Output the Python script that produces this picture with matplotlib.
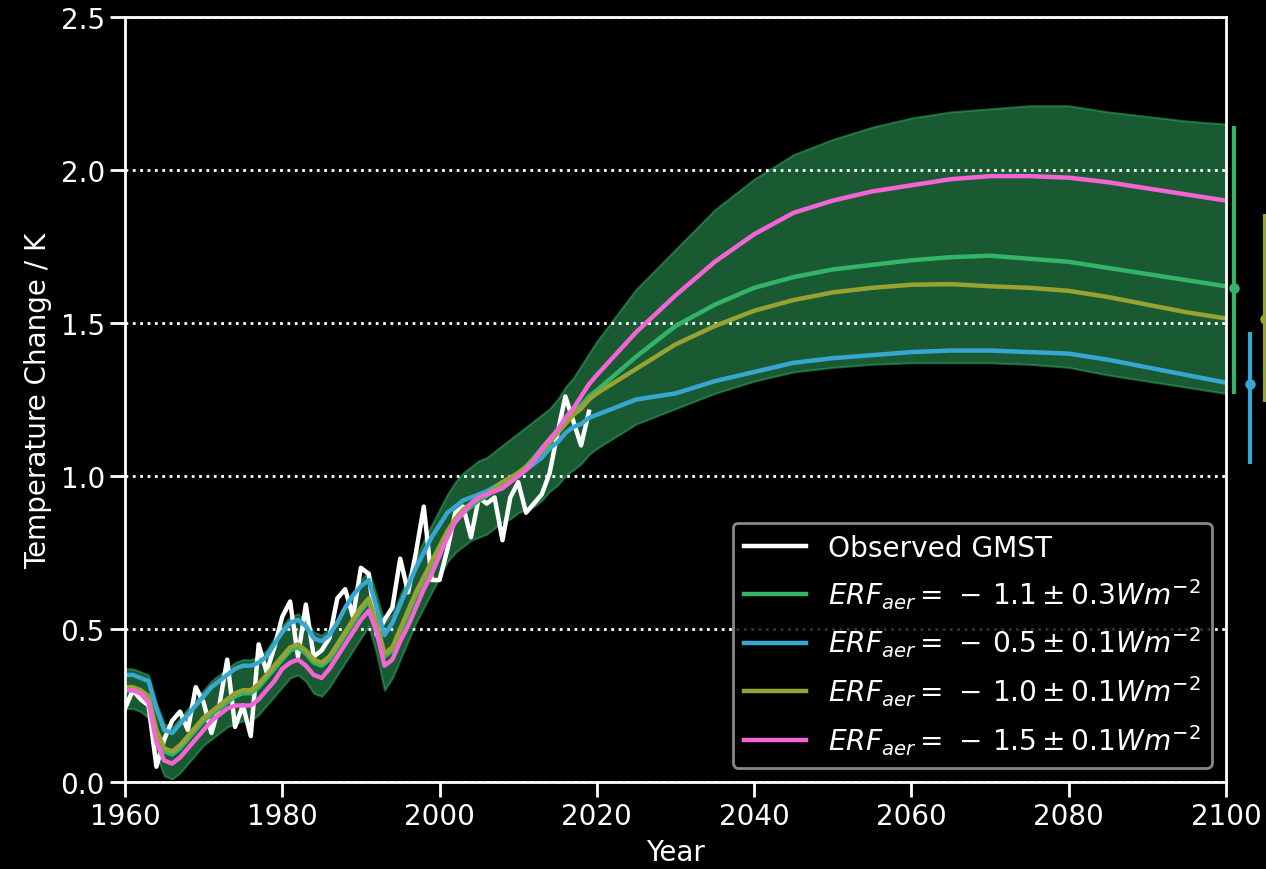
import numpy as np
import matplotlib
matplotlib.use("Agg")
import matplotlib.pyplot as plt

# years: annual through 2020, then every 5 years
years = np.concatenate([np.arange(1960, 2021), np.arange(2025, 2101, 5)])
obs_years = np.arange(1960, 2020)

# observed GMST (K)
obs = [0.24, 0.30, 0.27, 0.25, 0.05, 0.14, 0.20, 0.23, 0.17, 0.31,
       0.26, 0.16, 0.25, 0.40, 0.18, 0.25, 0.15, 0.45, 0.36, 0.44,
       0.54, 0.59, 0.41, 0.58, 0.41, 0.43, 0.47, 0.60, 0.63, 0.54,
       0.70, 0.68, 0.48, 0.53, 0.57, 0.73, 0.62, 0.75, 0.90, 0.66,
       0.66, 0.76, 0.88, 0.90, 0.80, 0.93, 0.91, 0.93, 0.79, 0.93,
       0.98, 0.88, 0.91, 0.94, 1.01, 1.14, 1.26, 1.18, 1.10, 1.21]

# ERF_aer = -1.1 +- 0.3 (central, upper, lower)
erf_11 = [0.30, 0.30, 0.29, 0.27, 0.16, 0.10, 0.09, 0.11, 0.14, 0.17,
          0.20, 0.22, 0.24, 0.26, 0.28, 0.29, 0.29, 0.31, 0.34, 0.37,
          0.40, 0.43, 0.44, 0.42, 0.39, 0.38, 0.40, 0.44, 0.48, 0.52,
          0.56, 0.59, 0.51, 0.41, 0.43, 0.49, 0.55, 0.61, 0.66, 0.71,
          0.76, 0.81, 0.85, 0.88, 0.90, 0.92, 0.935, 0.955, 0.975, 0.99,
          1.01, 1.03, 1.06, 1.09, 1.12, 1.15, 1.18, 1.21, 1.23, 1.26,
          1.28,
          1.39, 1.49, 1.56, 1.615, 1.65, 1.675, 1.69, 1.705, 1.715, 1.72,
          1.71, 1.70, 1.68, 1.66, 1.64, 1.62]
erf_11_hi = [0.37, 0.37, 0.36, 0.35, 0.26, 0.19, 0.18, 0.21, 0.24, 0.27,
             0.30, 0.33, 0.35, 0.37, 0.39, 0.40, 0.40, 0.41, 0.43, 0.47,
             0.51, 0.54, 0.55, 0.53, 0.49, 0.48, 0.50, 0.53, 0.57, 0.62,
             0.66, 0.69, 0.61, 0.52, 0.55, 0.61, 0.67, 0.73, 0.79, 0.84,
             0.89, 0.94, 0.98, 1.01, 1.03, 1.05, 1.06, 1.08, 1.10, 1.12,
             1.14, 1.16, 1.18, 1.20, 1.22, 1.25, 1.29, 1.32, 1.36, 1.40,
             1.44,
             1.61, 1.74, 1.87, 1.97, 2.05, 2.10, 2.14, 2.17, 2.19, 2.20,
             2.21, 2.21, 2.19, 2.175, 2.16, 2.15]
erf_11_lo = [0.24, 0.24, 0.23, 0.21, 0.09, 0.02, 0.01, 0.03, 0.06, 0.09,
             0.12, 0.14, 0.16, 0.18, 0.19, 0.20, 0.20, 0.22, 0.25, 0.28,
             0.31, 0.34, 0.35, 0.33, 0.29, 0.28, 0.31, 0.35, 0.39, 0.43,
             0.47, 0.51, 0.42, 0.30, 0.34, 0.40, 0.46, 0.52, 0.57, 0.62,
             0.67, 0.72, 0.75, 0.77, 0.79, 0.80, 0.81, 0.83, 0.85, 0.86,
             0.88, 0.89, 0.90, 0.92, 0.95, 0.97, 1.00, 1.02, 1.04, 1.07,
             1.09,
             1.17, 1.22, 1.27, 1.31, 1.34, 1.355, 1.365, 1.37, 1.37, 1.37,
             1.365, 1.355, 1.33, 1.31, 1.29, 1.27]

# ERF_aer = -0.5 +- 0.1
erf_05 = [0.35, 0.35, 0.34, 0.33, 0.24, 0.17, 0.16, 0.19, 0.22, 0.25,
          0.28, 0.31, 0.33, 0.35, 0.37, 0.38, 0.38, 0.39, 0.41, 0.45,
          0.49, 0.52, 0.53, 0.51, 0.47, 0.46, 0.48, 0.52, 0.57, 0.61,
          0.64, 0.66, 0.57, 0.48, 0.52, 0.58, 0.64, 0.70, 0.75, 0.80,
          0.84, 0.88, 0.90, 0.92, 0.93, 0.94, 0.95, 0.965, 0.98, 0.99,
          1.00, 1.02, 1.04, 1.06, 1.09, 1.11, 1.14, 1.16, 1.17, 1.19,
          1.20,
          1.25, 1.27, 1.31, 1.34, 1.37, 1.385, 1.395, 1.405, 1.41, 1.41,
          1.405, 1.40, 1.38, 1.355, 1.33, 1.305]

# ERF_aer = -1.0 +- 0.1
erf_10 = [0.31, 0.31, 0.30, 0.28, 0.17, 0.11, 0.10, 0.12, 0.15, 0.18,
          0.21, 0.23, 0.25, 0.27, 0.29, 0.30, 0.30, 0.32, 0.35, 0.38,
          0.41, 0.44, 0.45, 0.43, 0.40, 0.39, 0.41, 0.45, 0.49, 0.53,
          0.57, 0.60, 0.52, 0.42, 0.44, 0.50, 0.56, 0.62, 0.67, 0.72,
          0.77, 0.82, 0.86, 0.89, 0.91, 0.93, 0.94, 0.96, 0.98, 0.995,
          1.01, 1.03, 1.055, 1.08, 1.11, 1.14, 1.17, 1.20, 1.22, 1.25,
          1.27,
          1.35, 1.43, 1.49, 1.54, 1.575, 1.60, 1.615, 1.625, 1.627, 1.62,
          1.615, 1.605, 1.585, 1.56, 1.535, 1.515]

# ERF_aer = -1.5 +- 0.1
erf_15 = [0.30, 0.30, 0.29, 0.26, 0.13, 0.07, 0.06, 0.08, 0.11, 0.14,
          0.17, 0.20, 0.22, 0.24, 0.25, 0.25, 0.25, 0.27, 0.30, 0.33,
          0.37, 0.39, 0.40, 0.38, 0.35, 0.34, 0.37, 0.41, 0.45, 0.49,
          0.53, 0.56, 0.49, 0.38, 0.40, 0.46, 0.51, 0.57, 0.63, 0.68,
          0.74, 0.80, 0.85, 0.88, 0.91, 0.93, 0.94, 0.95, 0.96, 0.98,
          1.00, 1.02, 1.05, 1.09, 1.12, 1.15, 1.19, 1.22, 1.26, 1.30,
          1.33,
          1.47, 1.59, 1.70, 1.79, 1.86, 1.90, 1.93, 1.95, 1.97, 1.98,
          1.98, 1.975, 1.96, 1.94, 1.92, 1.90]

# 2100 ranges shown as error bars right of the axes
bar_x = [2101, 2103, 2105]
bar_mid = [1.615, 1.30, 1.513]
bar_lo = [1.268, 1.04, 1.242]
bar_hi = [2.144, 1.47, 1.856]

c_green = '#33b466'
c_blue = '#37a6d2'
c_olive = '#98a233'
c_pink = '#f564d4'

plt.style.use('dark_background')
plt.rcParams['font.family'] = ['DejaVu Sans']

fig = plt.figure(figsize=(12.66, 8.7), dpi=100)
ax = fig.add_axes([0.0987, 0.1, 0.8697, 0.8793])

ax.fill_between(years, erf_11_lo, erf_11_hi, color=c_green, alpha=0.5, lw=1.5, zorder=1)
ax.plot(obs_years, obs, color='white', lw=3.2, label='Observed GMST', zorder=2)
ax.plot(years, erf_11, color=c_green, lw=3.2, label=r'$ERF_{aer} = \,-\, 1.1 \pm 0.3 Wm^{-2}$', zorder=2)
ax.plot(years, erf_05, color=c_blue, lw=3.2, label=r'$ERF_{aer} = \,-\, 0.5 \pm 0.1 Wm^{-2}$', zorder=2)
ax.plot(years, erf_10, color=c_olive, lw=3.2, label=r'$ERF_{aer} = \,-\, 1.0 \pm 0.1 Wm^{-2}$', zorder=2)
ax.plot(years, erf_15, color=c_pink, lw=3.2, label=r'$ERF_{aer} = \,-\, 1.5 \pm 0.1 Wm^{-2}$', zorder=2)

for x, m, lo, hi, c in zip(bar_x, bar_mid, bar_lo, bar_hi, [c_green, c_blue, c_olive]):
    ax.errorbar([x], [m], yerr=[[m - lo], [hi - m]], fmt='o', color=c, ms=6.5,
                elinewidth=3, capsize=0, clip_on=False, zorder=3)

ax.set_xlim(1960, 2100)
ax.set_ylim(0, 2.5)
ax.set_xticks(np.arange(1960, 2101, 20))
ax.set_yticks(np.arange(0, 2.51, 0.5))
ax.yaxis.grid(True, linestyle=':', color='white', lw=2, zorder=1.5)
ax.set_axisbelow('line')

for s in ax.spines.values():
    s.set_color('white')
    s.set_linewidth(2)
ax.tick_params(axis='both', which='major', length=11, width=2, labelsize=20, colors='white')

ax.set_xlabel('Year', fontsize=20, labelpad=6)
ax.set_ylabel('Temperature Change / K', fontsize=20, labelpad=6)

leg = ax.legend(loc='lower right', fontsize=20.2, facecolor='black', edgecolor='#aaaaaa',
                framealpha=0.8, handlelength=2.2)
leg.get_frame().set_linewidth(2)

fig.savefig('out.png', dpi=100, facecolor='black')
